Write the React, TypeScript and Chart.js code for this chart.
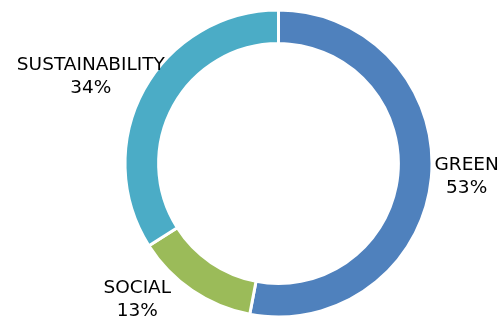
import React, { useEffect, useRef } from "react";
import { Chart, registerables } from "chart.js";

Chart.register(...registerables);

const categories = ["GREEN", "SOCIAL", "SUSTAINABILITY"];
const shares = [53, 13, 34];
const sliceColors = ["#4F81BD", "#9BBB59", "#4BACC6"];

// label nudges relative to a point just outside each arc's middle
const labelNudges: [number, number][] = [
  [0, 0],
  [-35, -15.5],
  [-22, 9],
];

const outsideLabels = {
  id: "outsideLabels",
  afterDatasetsDraw(chart: any) {
    const ctx = chart.ctx;
    const meta = chart.getDatasetMeta(0);
    ctx.save();
    ctx.font = "18.5px 'DejaVu Sans'";
    ctx.fillStyle = "#000";
    ctx.textAlign = "center";
    ctx.textBaseline = "alphabetic";
    meta.data.forEach((arc: any, i: number) => {
      const p = arc.getProps(["x", "y", "startAngle", "endAngle", "outerRadius"], true);
      const mid = (p.startAngle + p.endAngle) / 2;
      const d = p.outerRadius + 35.5;
      const ax = p.x + d * Math.cos(mid) + labelNudges[i][0];
      const ay = p.y + d * Math.sin(mid) + labelNudges[i][1];
      ctx.fillText(categories[i], ax, ay - 11.25);
      ctx.fillText(Math.round(shares[i]) + "%", ax, ay + 11.25);
    });
    ctx.restore();
  },
};

export default function App() {
  const ref = useRef<HTMLCanvasElement>(null);
  useEffect(() => {
    if (!ref.current) return;
    const chart = new Chart(ref.current, {
      type: "doughnut",
      data: {
        labels: categories,
        datasets: [
          {
            data: shares,
            backgroundColor: sliceColors,
            borderColor: "#fff",
            borderWidth: 3,
            radius: 153.5,
            cutout: 119.5,
          } as any,
        ],
      },
      options: {
        animation: false,
        responsive: true,
        maintainAspectRatio: false,
        layout: { padding: { left: 55, right: 0, top: 9, bottom: 0 } },
        plugins: {
          legend: { display: false },
          tooltip: { enabled: false },
        },
      },
      plugins: [outsideLabels],
    });
    return () => chart.destroy();
  }, []);
  return (
    <div style={{ position: "absolute", left: 0, top: 0, width: 502, height: 318, background: "#fff" }}>
      <canvas ref={ref} />
    </div>
  );
}
